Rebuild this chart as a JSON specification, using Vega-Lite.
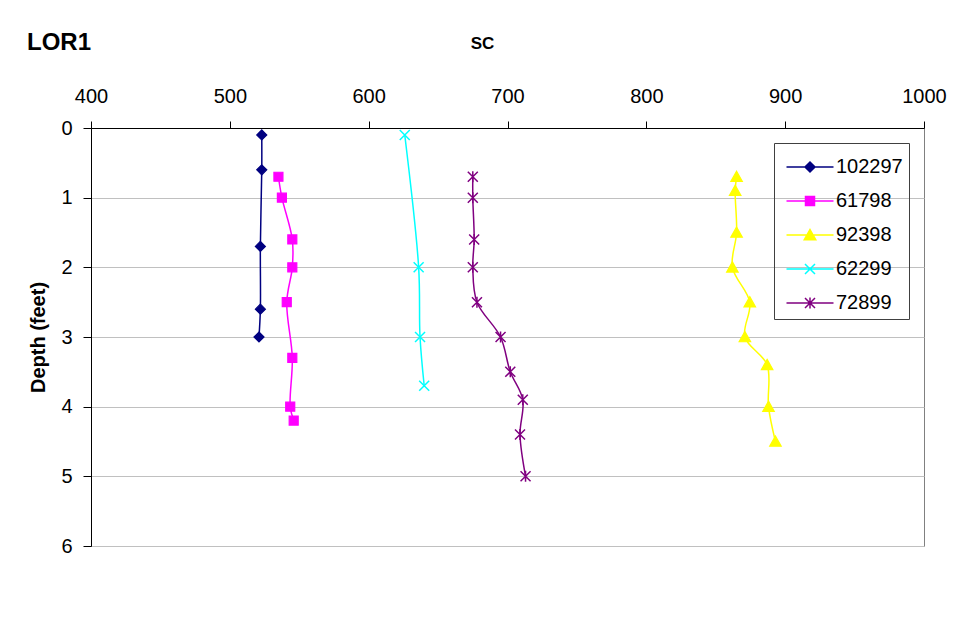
{
  "$schema": "https://vega.github.io/schema/vega-lite/v6.json",
  "autosize": "none",
  "width": 833,
  "height": 418,
  "padding": {"left": 91, "top": 128, "right": 34, "bottom": 72},
  "background": "white",
  "title": {"text": "LOR1", "anchor": "start", "frame": "group", "fontSize": 24, "fontWeight": "bold", "color": "black", "dx": -64, "offset": -21},
  "config": {
    "font": "Liberation Sans",
    "view": {"stroke": "#808080", "strokeWidth": 1}
  },
  "data": {"values": [
    {"series": "102297", "sc": 523, "depth": 0.1},
    {"series": "102297", "sc": 523, "depth": 0.6},
    {"series": "102297", "sc": 522, "depth": 1.7},
    {"series": "102297", "sc": 522, "depth": 2.6},
    {"series": "102297", "sc": 521, "depth": 3.0},
    {"series": "61798", "sc": 535, "depth": 0.7},
    {"series": "61798", "sc": 537.5, "depth": 1.0},
    {"series": "61798", "sc": 545, "depth": 1.6},
    {"series": "61798", "sc": 545, "depth": 2.0},
    {"series": "61798", "sc": 541, "depth": 2.5},
    {"series": "61798", "sc": 545, "depth": 3.3},
    {"series": "61798", "sc": 543.5, "depth": 4.0},
    {"series": "61798", "sc": 546, "depth": 4.2},
    {"series": "92398", "sc": 865, "depth": 0.7},
    {"series": "92398", "sc": 864, "depth": 0.9},
    {"series": "92398", "sc": 865, "depth": 1.5},
    {"series": "92398", "sc": 862, "depth": 2.0},
    {"series": "92398", "sc": 874.5, "depth": 2.5},
    {"series": "92398", "sc": 871, "depth": 3.0},
    {"series": "92398", "sc": 887, "depth": 3.4},
    {"series": "92398", "sc": 888, "depth": 4.0},
    {"series": "92398", "sc": 893, "depth": 4.5},
    {"series": "62299", "sc": 626, "depth": 0.1},
    {"series": "62299", "sc": 636, "depth": 2.0},
    {"series": "62299", "sc": 637, "depth": 3.0},
    {"series": "62299", "sc": 640, "depth": 3.7},
    {"series": "72899", "sc": 675, "depth": 0.7},
    {"series": "72899", "sc": 675, "depth": 1.0},
    {"series": "72899", "sc": 676, "depth": 1.6},
    {"series": "72899", "sc": 675, "depth": 2.0},
    {"series": "72899", "sc": 678, "depth": 2.5},
    {"series": "72899", "sc": 695, "depth": 3.0},
    {"series": "72899", "sc": 702, "depth": 3.5},
    {"series": "72899", "sc": 711, "depth": 3.9},
    {"series": "72899", "sc": 709, "depth": 4.4},
    {"series": "72899", "sc": 713, "depth": 5.0}
  ]},
  "encoding": {
    "x": {"field": "sc", "type": "quantitative",
      "scale": {"domain": [400, 1000], "nice": false, "zero": false},
      "axis": {"orient": "top", "values": [400, 500, 600, 700, 800, 900, 1000], "grid": false, "format": "d",
        "title": "SC", "titleFontSize": 17, "titleFontWeight": "bold", "titleColor": "black", "titlePadding": 34, "titleX": 391,
        "labelFontSize": 20, "labelColor": "black", "labelPadding": 15, "labelFlush": false,
        "domainColor": "black", "tickColor": "black", "tickSize": 7}},
    "y": {"field": "depth", "type": "quantitative",
      "scale": {"domain": [0, 6], "reverse": true, "nice": false, "zero": false},
      "axis": {"values": [0, 1, 2, 3, 4, 5, 6], "grid": true, "gridColor": "#c0c0c0", "gridWidth": 1,
        "title": "Depth (feet)", "titleFontSize": 20, "titleFontWeight": "bold", "titleColor": "black", "titlePadding": 12,
        "labelFontSize": 20, "labelColor": "black", "labelPadding": 11,
        "domainColor": "black", "tickColor": "black", "tickSize": 8}}
  },
  "layer": [
    {
      "mark": {"type": "line", "interpolate": "catmull-rom", "strokeWidth": 1.5},
      "encoding": {
        "order": {"field": "depth", "type": "quantitative"},
        "color": {"field": "series", "type": "nominal",
          "scale": {"domain": ["102297", "61798", "92398", "62299", "72899"], "range": ["#000080", "#FF00FF", "#FFFF00", "#00FFFF", "#800080"]},
          "legend": {"orient": "none", "legendX": 683, "legendY": 15, "title": " ", "titleFontSize": 8, "titlePadding": 0,
            "strokeColor": "#404040", "padding": 6, "labelFontSize": 20, "labelColor": "black",
            "labelOffset": 36, "symbolSize": 100, "rowPadding": 14, "symbolStrokeWidth": 1.5,
            "encode": {"symbols": {"update": {
              "fill": {"scale": "color", "field": "value"},
              "strokeWidth": {"value": 1.5},
              "opacity": {"value": 1},
              "shape": {"signal": "datum.value === '102297' ? 'M-0.7,0L8.7,0M4,-1L5,0L4,1L3,0Z' : datum.value === '61798' ? 'M-0.7,0L8.7,0M3.1,-0.9L4.9,-0.9L4.9,0.9L3.1,0.9Z' : datum.value === '92398' ? 'M-0.7,0L8.7,0M4,-1.1L5.15,0.95L2.85,0.95Z' : datum.value === '62299' ? 'M-0.7,0L8.7,0M3,-1L5,1M3,1L5,-1' : 'M-0.7,0L8.7,0M3,-1L5,1M3,1L5,-1M4,-1.1L4,1.1'"}
            }}}}
        }
      }
    },
    {
      "transform": [{"filter": "datum.series === '102297'"}],
      "mark": {"type": "point", "shape": "M0,-1L1,0L0,1L-1,0Z", "size": 100, "filled": true, "fill": "#000080", "stroke": "#000080", "strokeWidth": 1.2, "opacity": 1}
    },
    {
      "transform": [{"filter": "datum.series === '61798'"}],
      "mark": {"type": "point", "shape": "M-0.9,-0.9L0.9,-0.9L0.9,0.9L-0.9,0.9Z", "size": 100, "filled": true, "fill": "#FF00FF", "stroke": "#FF00FF", "strokeWidth": 1.2, "opacity": 1}
    },
    {
      "transform": [{"filter": "datum.series === '92398'"}],
      "mark": {"type": "point", "shape": "M0,-1.1L1.15,0.95L-1.15,0.95Z", "size": 100, "filled": true, "fill": "#FFFF00", "stroke": "#FFFF00", "strokeWidth": 1.2, "opacity": 1}
    },
    {
      "transform": [{"filter": "datum.series === '62299'"}],
      "mark": {"type": "point", "shape": "M-1,-1L1,1M-1,1L1,-1", "size": 100, "filled": false, "stroke": "#00FFFF", "strokeWidth": 1.5, "opacity": 1}
    },
    {
      "transform": [{"filter": "datum.series === '72899'"}],
      "mark": {"type": "point", "shape": "M-1,-1L1,1M-1,1L1,-1M0,-1.1L0,1.1", "size": 100, "filled": false, "stroke": "#800080", "strokeWidth": 1.5, "opacity": 1}
    }
  ]
}
